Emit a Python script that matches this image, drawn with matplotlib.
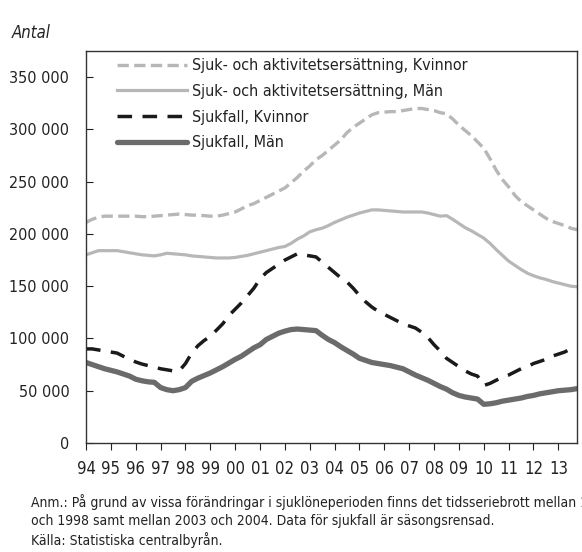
import numpy as np
import matplotlib
matplotlib.use("Agg")
import matplotlib.pyplot as plt
from matplotlib.ticker import FuncFormatter

plt.rcParams['font.family'] = ['DejaVu Sans']
plt.rcParams['font.stretch'] = 'condensed'

# Kvartal 1994 K1 - 2013 K4 (tusental)
start_year = 1994
sa_kvinnor = [
    211, 214, 216, 217, 217, 217, 217, 217, 217, 216.5, 216.5, 217,
    217.5, 218, 218.5, 219, 218.5, 218, 218, 217.5, 217, 217, 218, 219.5,
    221, 224, 227, 229, 232, 235, 238, 241, 244, 249, 254, 260,
    265, 271, 275, 280, 285, 290, 297, 302, 306, 310, 314, 316,
    316.5, 317, 317, 318, 319, 320, 320, 319, 318, 316, 315, 310,
    304, 299, 294, 288, 282, 272, 261, 252, 245, 237, 231, 227,
    223, 219, 215, 212, 210, 208, 205.5, 204,
]
sa_man = [
    180, 182, 184, 184, 184, 184, 183, 182, 181, 180, 179.5, 179,
    180, 181.5, 181, 180.5, 180, 179, 178.5, 178, 177.5, 177, 177, 177,
    177.5, 178.5, 179.5, 181, 182.5, 184, 185.5, 187, 188, 191, 195, 198,
    202, 204, 205.5, 208, 211, 213.5, 216, 218, 220, 221.5, 223, 223,
    222.5, 222, 221.5, 221, 221, 221, 221, 220, 218.5, 217, 217.5, 214,
    210, 206, 203, 199.5, 196, 191, 185, 179.5, 174, 170, 166, 162.5,
    160, 158, 156.5, 154.5, 153, 151.5, 150, 149.5,
]
sjukfall_kvinnor = [
    90, 90, 89, 88, 87, 86, 83, 80, 77.5, 75.5, 74, 72.5,
    71, 70, 69, 69, 76, 86, 93, 98, 102, 108, 114, 122,
    128, 134, 141, 148, 157, 163, 167, 171, 175, 178, 181, 180,
    179, 178, 173, 168, 163, 158, 154, 148, 141, 135, 130, 126,
    123, 120, 117, 114, 112, 110, 106, 101, 94, 88, 81, 77,
    73, 69, 66, 64, 55, 57, 60, 63, 65, 68, 71, 73,
    76, 78, 80, 83, 85, 87, 90, 92,
]
sjukfall_man = [
    77, 75, 73, 71, 69.5, 68, 66, 64, 61, 59.5, 58.5, 58,
    53, 51, 50, 51, 53, 59, 62, 64.5, 67, 70, 73, 76.5,
    80, 83, 87, 91, 94, 99, 102, 105, 107, 108.5, 109, 108.5,
    108, 107.5, 103, 99, 96, 92, 88.5, 85, 81, 79, 77, 76,
    75, 74, 72.5, 71, 68, 65, 62.5, 60, 57, 54, 51.5, 48,
    45.5, 44, 43, 42, 37, 37.5, 38.5, 40, 41, 42, 43, 44.5,
    45.5, 47, 48, 49, 50, 50.5, 51, 52,
]
year_labels = ['94', '95', '96', '97', '98', '99', '00', '01', '02', '03',
               '04', '05', '06', '07', '08', '09', '10', '11', '12', '13']

x = start_year + np.arange(len(sa_kvinnor)) / 4.0

fig = plt.figure(figsize=(5.82, 5.52), dpi=100)
ax = fig.add_axes([0.1478, 0.1975, 0.8436, 0.7101])

ax.plot(x, np.array(sa_kvinnor) * 1000, color='#b7b7b7', lw=2.4,
        ls=(0, (3.4, 1.6)), label='Sjuk- och aktivitetsersättning, Kvinnor')
ax.plot(x, np.array(sa_man) * 1000, color='#b7b7b7', lw=2.3,
        label='Sjuk- och aktivitetsersättning, Män')
ax.plot(x, np.array(sjukfall_kvinnor) * 1000, color='#1a1a1a', lw=2.5,
        ls=(0, (4.2, 3.0)), label='Sjukfall, Kvinnor')
ax.plot(x, np.array(sjukfall_man) * 1000, color='#6b6b6b', lw=3.8,
        solid_capstyle='round', label='Sjukfall, Män')

ax.set_xlim(1994, 1994 + 19.75)
ax.set_ylim(0, 375000)
ax.set_yticks(np.arange(0, 350001, 50000))
ax.yaxis.set_major_formatter(FuncFormatter(lambda v, p: f'{int(v):,}'.replace(',', ' ')))
ax.set_xticks(np.arange(1994, 2014))
ax.set_xticklabels(year_labels)

for s in ax.spines.values():
    s.set_linewidth(1.0)
    s.set_color('#333333')
ax.tick_params(axis='y', direction='in', length=5, pad=12, labelsize=11.5, colors='#222222')
ax.tick_params(axis='x', direction='out', length=5, pad=7, labelsize=12, colors='#222222')

leg = ax.legend(loc='upper left', bbox_to_anchor=(0.033, 1.018), frameon=False,
                fontsize=11.5, handlelength=4.4, handletextpad=0.3, labelspacing=0.67)
for t in leg.get_texts():
    t.set_color('#222222')

fig.text(12 / 582, 1 - 33 / 552, 'Antal', fontsize=12, style='italic',
         va='center', ha='left', color='#222222')
notes = ['Anm.: På grund av vissa förändringar i sjuklöneperioden finns det tidsseriebrott mellan 1997',
         'och 1998 samt mellan 2003 och 2004. Data för sjukfall är säsongsrensad.',
         'Källa: Statistiska centralbyrån.']
for i, line in enumerate(notes):
    fig.text(31 / 582, 1 - (502 + 19 * i) / 552, line, fontsize=10,
             va='center', ha='left', color='#222222')

fig.savefig('out.png', dpi=100)
